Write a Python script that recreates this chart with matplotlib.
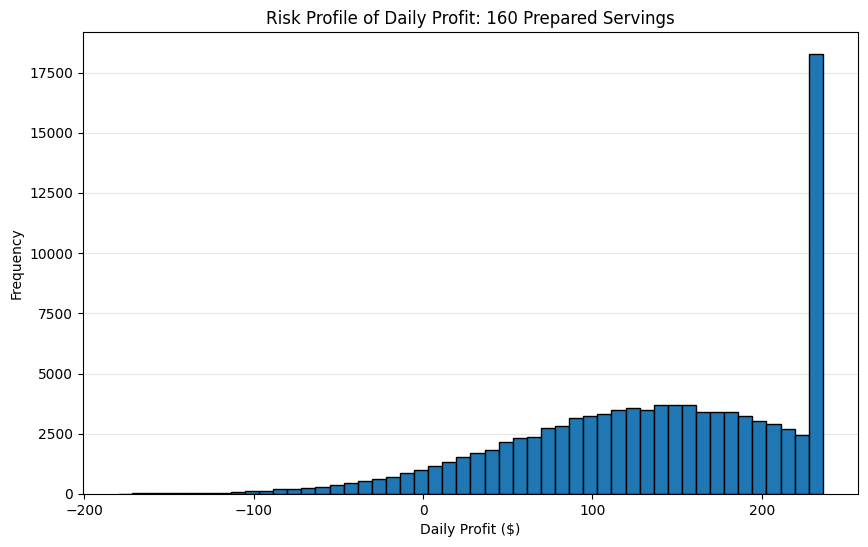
import numpy as np
import matplotlib
matplotlib.use("Agg")
import matplotlib.pyplot as plt

# histogram: 50 bins from about -180 to 236 dollars
bin_lo = -180.0
bin_hi = 236.0
n_bins = 50
counts = [
    20, 22, 22, 24, 25, 26, 28, 30, 70, 112,
    115, 195, 200, 250, 291, 374, 443, 540, 624, 707,
    859, 998, 1164, 1330, 1524, 1690, 1829, 2162, 2314, 2356,
    2730, 2813, 3145, 3228, 3325, 3478, 3561, 3478, 3686, 3686,
    3686, 3423, 3423, 3423, 3228, 3020, 2910, 2688, 2453, 18270,
]

edges = np.linspace(bin_lo, bin_hi, n_bins + 1)
centers = (edges[:-1] + edges[1:]) / 2

fig = plt.figure(figsize=(8.68, 5.47), dpi=100)
ax = fig.add_axes([0.0956, 0.0969, 0.8929, 0.8446])

ax.hist(centers, bins=edges, weights=counts, color="#1f77b4", edgecolor="black")
ax.grid(axis="y", alpha=0.3)
ax.set_axisbelow(True)

ax.set_title("Risk Profile of Daily Profit: 160 Prepared Servings")
ax.set_xlabel("Daily Profit ($)")
ax.set_ylabel("Frequency")

fig.savefig("out.png", dpi=100)
